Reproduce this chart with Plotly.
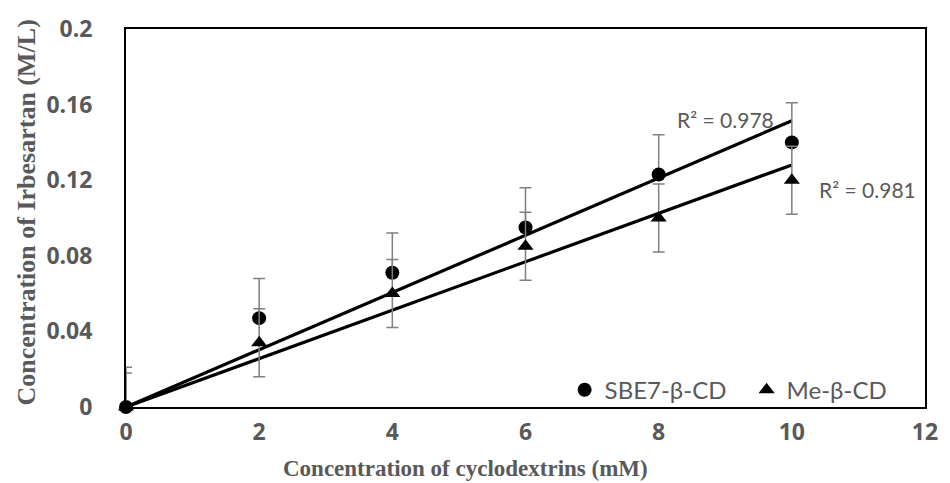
import numpy as np
import plotly.graph_objects as go

# ---- data ----
conc_cd = [0, 2, 4, 6, 8, 10]
sbe7 = [0.0, 0.047, 0.071, 0.095, 0.123, 0.140]
sbe7_err = [0.021, 0.021, 0.021, 0.021, 0.021, 0.021]
me = [0.0, 0.034, 0.060, 0.085, 0.100, 0.120]
me_err = [0.018, 0.018, 0.018, 0.018, 0.018, 0.018]
r2_labels = ["R\u00b2 = 0.978", "R\u00b2 = 0.981"]
series_names = ["SBE7-\u03b2-CD", "Me-\u03b2-CD"]
x_ticks = [0, 2, 4, 6, 8, 10, 12]
y_ticks = [0, 0.04, 0.08, 0.12, 0.16, 0.2]
y_tick_text = ["0", "0.04", "0.08", "0.12", "0.16", "0.2"]

GRAY = "#595959"
ERR = "#808080"

def slope_through_origin(x, y):
    x = np.asarray(x, float); y = np.asarray(y, float)
    return float((x * y).sum() / (x * x).sum())

fig = go.Figure()

# trendlines (linear, intercept 0)
for ys in (sbe7, me):
    k = slope_through_origin(conc_cd, ys)
    xs = [conc_cd[0], conc_cd[-1]]
    fig.add_trace(go.Scatter(x=xs, y=[k * v for v in xs], mode="lines",
                             line=dict(color="black", width=3.2),
                             showlegend=False, hoverinfo="skip", cliponaxis=False))

fig.add_trace(go.Scatter(
    x=conc_cd, y=sbe7, mode="markers", name=series_names[0],
    marker=dict(symbol="circle", size=14, color="black"),
    error_y=dict(type="data", symmetric=False, array=sbe7_err,
                 arrayminus=[0] * len(sbe7_err), color=ERR, thickness=1.5, width=6),
    cliponaxis=False))
fig.add_trace(go.Scatter(
    x=conc_cd, y=me, mode="markers", name=series_names[1],
    marker=dict(symbol="triangle-up", size=14, color="black"),
    error_y=dict(type="data", array=me_err, color=ERR, thickness=1.5, width=6),
    cliponaxis=False))

fig.add_annotation(x=9.01, y=0.1522, text=r2_labels[0], showarrow=False,
                   font=dict(family="Lato", size=21, color=GRAY))
fig.add_annotation(x=11.13, y=0.1150, text=r2_labels[1], showarrow=False,
                   font=dict(family="Lato", size=21, color=GRAY))

# axis titles as annotations
fig.add_annotation(xref="paper", yref="paper", x=(469 - 126) / 807, y=-(469 - 407) / 381,
                   text="<b>Concentration of cyclodextrins (mM)</b>", showarrow=False,
                   font=dict(family="Liberation Serif", size=23, color=GRAY),
                   xanchor="center", yanchor="middle")
fig.add_annotation(xref="paper", yref="paper", x=-(126 - 26) / 807, y=(407 - 211) / 381,
                   text="<b>Concentration of Irbesartan (M/L)</b>", showarrow=False,
                   textangle=-90,
                   font=dict(family="Liberation Serif", size=26, color=GRAY),
                   xanchor="center", yanchor="middle")

tick_font = dict(family="Open Sans", size=23, color=GRAY, weight="bold")
fig.update_xaxes(range=[0, 12], tickvals=x_ticks, showgrid=False, zeroline=False,
                 showline=True, linecolor="black", linewidth=2, mirror=True,
                 ticks="", ticklabelstandoff=3, tickfont=tick_font)
fig.update_yaxes(range=[0, 0.2], tickvals=y_ticks, ticktext=y_tick_text,
                 showgrid=False, zeroline=False,
                 showline=True, linecolor="black", linewidth=2, mirror=True,
                 ticks="", ticklabelstandoff=27, tickfont=tick_font)

fig.update_layout(
    width=950, height=483,
    margin=dict(l=126, r=17, t=26, b=76),
    paper_bgcolor="white", plot_bgcolor="white",
    showlegend=True,
    legend=dict(orientation="h", x=(569 - 126) / 807, y=(407 - 390) / 381,
                xanchor="left", yanchor="middle", bgcolor="rgba(0,0,0,0)",
                entrywidth=137, entrywidthmode="pixels",
                font=dict(family="Lato", size=24, color=GRAY)),
)

fig.write_html("out.html")
